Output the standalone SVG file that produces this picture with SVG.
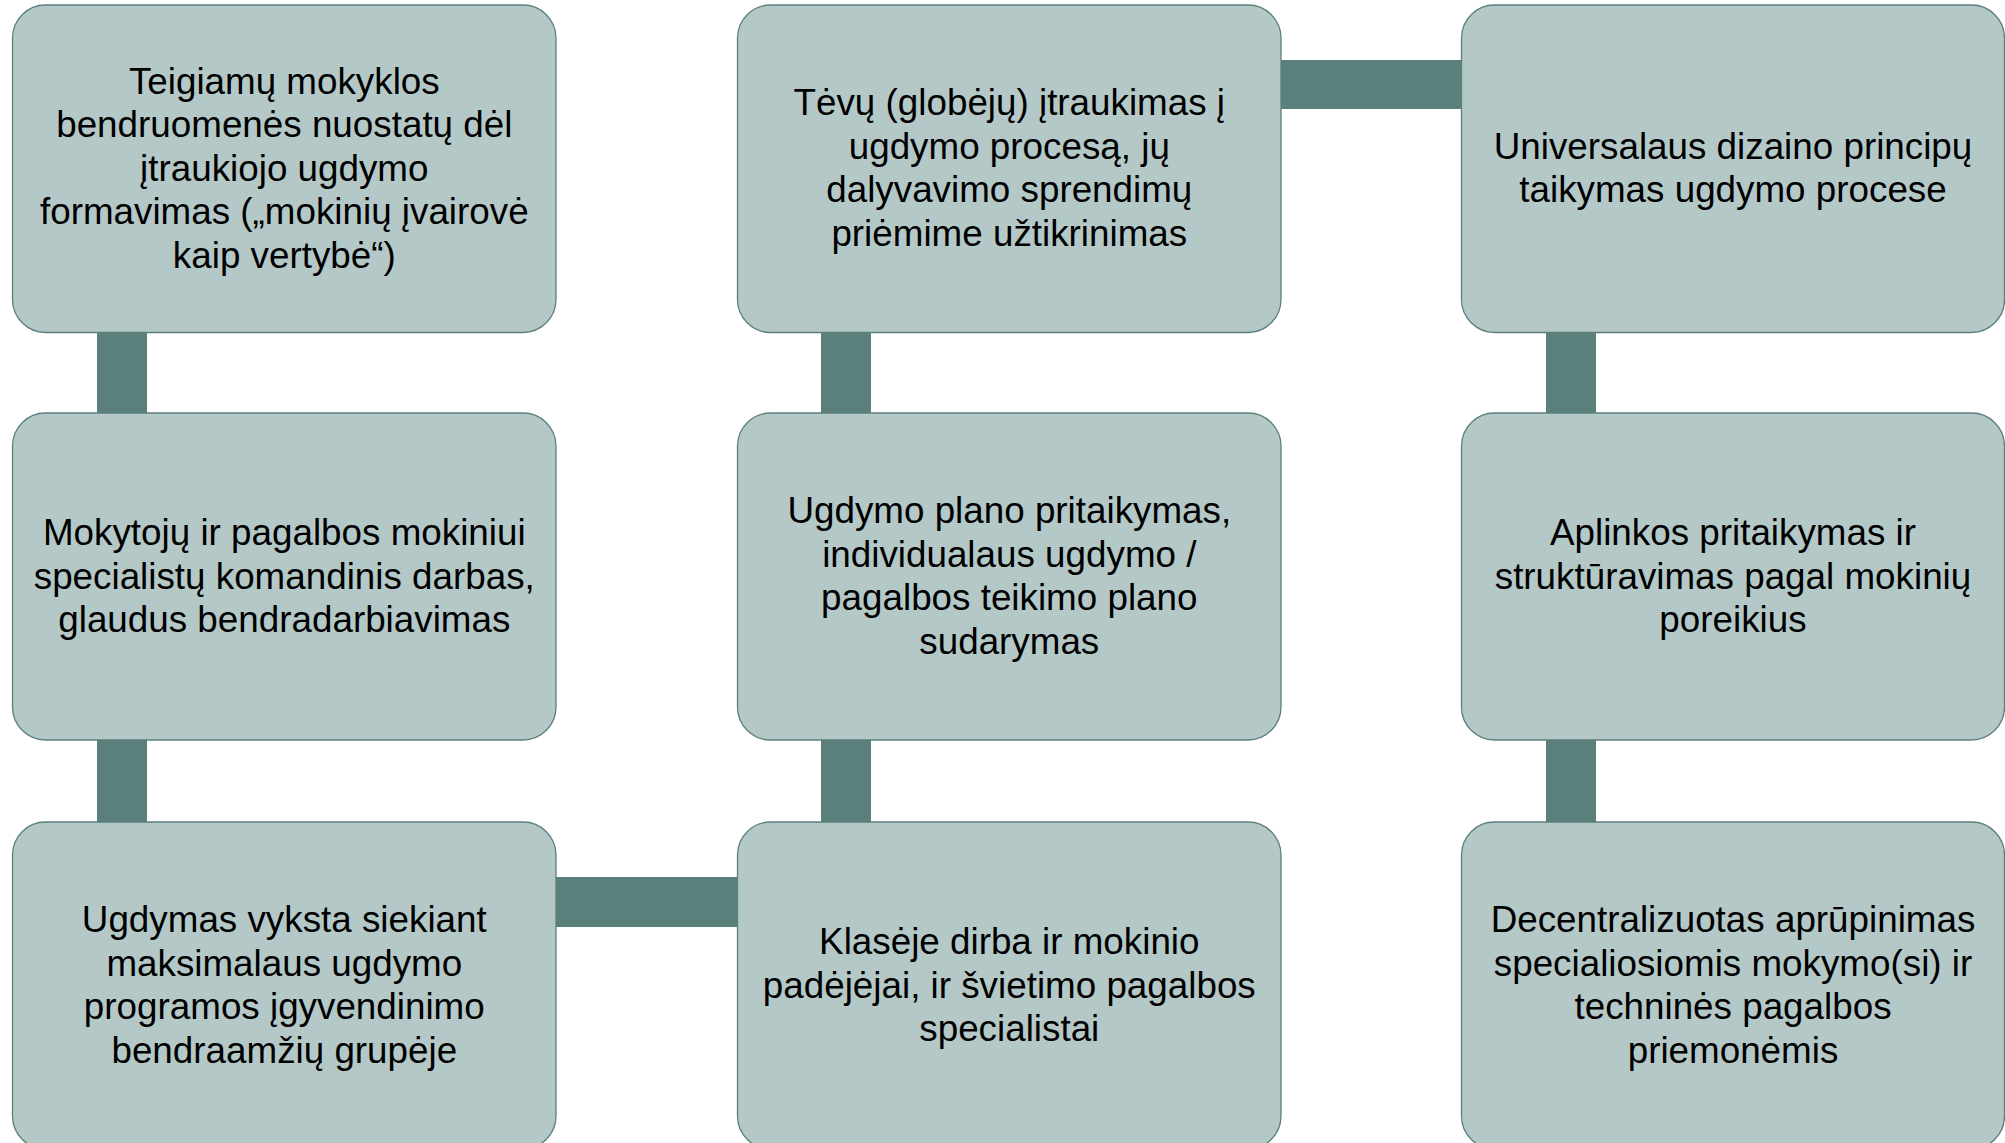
<svg xmlns="http://www.w3.org/2000/svg" width="2005" height="1143" viewBox="0 0 2005 1143">
<style>
.box{fill:#B4C9C7;stroke:#5B807C;stroke-width:1.3}
.con{fill:#5B807C}
text{font-family:"Liberation Sans",Arial,sans-serif;font-size:36.8px;fill:#000;text-anchor:middle}
</style>
<rect width="2005" height="1143" fill="#fff"/>
<g id="connectors">
<rect class="con" x="97" y="330" width="50" height="85"/>
<rect class="con" x="97" y="738" width="50" height="86"/>
<rect class="con" x="821" y="330" width="50" height="85"/>
<rect class="con" x="821" y="738" width="50" height="86"/>
<rect class="con" x="1546" y="330" width="50" height="85"/>
<rect class="con" x="1546" y="738" width="50" height="86"/>
<rect class="con" x="554" y="877" width="186" height="50"/>
<rect class="con" x="1279" y="60" width="185" height="49"/>
</g>
<g id="n1">
<rect class="box" x="12.5" y="5" width="543.5" height="327.5" rx="33"/>
<text x="284.3" y="93.5">Teigiamų mokyklos</text>
<text x="284.3" y="137">bendruomenės nuostatų dėl</text>
<text x="284.3" y="180.5">įtraukiojo ugdymo</text>
<text x="284.3" y="224">formavimas („mokinių įvairovė</text>
<text x="284.3" y="267.5">kaip vertybė“)</text>
</g>
<g id="n2">
<rect class="box" x="12.5" y="413" width="543.5" height="327" rx="33"/>
<text x="284.3" y="545">Mokytojų ir pagalbos mokiniui</text>
<text x="284.3" y="588.5">specialistų komandinis darbas,</text>
<text x="284.3" y="632">glaudus bendradarbiavimas</text>
</g>
<g id="n3">
<rect class="box" x="12.5" y="822" width="543.5" height="327" rx="33"/>
<text x="284.3" y="932">Ugdymas vyksta siekiant</text>
<text x="284.3" y="976">maksimalaus ugdymo</text>
<text x="284.3" y="1019">programos įgyvendinimo</text>
<text x="284.3" y="1063">bendraamžių grupėje</text>
</g>
<g id="n4">
<rect class="box" x="737.5" y="5" width="543.5" height="327.5" rx="33"/>
<text x="1009.3" y="115">Tėvų (globėjų) įtraukimas į</text>
<text x="1009.3" y="159">ugdymo procesą, jų</text>
<text x="1009.3" y="202">dalyvavimo sprendimų</text>
<text x="1009.3" y="246">priėmime užtikrinimas</text>
</g>
<g id="n5">
<rect class="box" x="737.5" y="413" width="543.5" height="327" rx="33"/>
<text x="1009.3" y="523">Ugdymo plano pritaikymas,</text>
<text x="1009.3" y="567">individualaus ugdymo /</text>
<text x="1009.3" y="610">pagalbos teikimo plano</text>
<text x="1009.3" y="654">sudarymas</text>
</g>
<g id="n6">
<rect class="box" x="737.5" y="822" width="543.5" height="327" rx="33"/>
<text x="1009.3" y="954">Klasėje dirba ir mokinio</text>
<text x="1009.3" y="997.5">padėjėjai, ir švietimo pagalbos</text>
<text x="1009.3" y="1041">specialistai</text>
</g>
<g id="n7">
<rect class="box" x="1461.5" y="5" width="543" height="327.5" rx="33"/>
<text x="1733" y="159">Universalaus dizaino principų</text>
<text x="1733" y="202">taikymas ugdymo procese</text>
</g>
<g id="n8">
<rect class="box" x="1461.5" y="413" width="543" height="327" rx="33"/>
<text x="1733" y="545">Aplinkos pritaikymas ir</text>
<text x="1733" y="588.5">struktūravimas pagal mokinių</text>
<text x="1733" y="632">poreikius</text>
</g>
<g id="n9">
<rect class="box" x="1461.5" y="822" width="543" height="327" rx="33"/>
<text x="1733" y="932">Decentralizuotas aprūpinimas</text>
<text x="1733" y="976">specialiosiomis mokymo(si) ir</text>
<text x="1733" y="1019">techninės pagalbos</text>
<text x="1733" y="1063">priemonėmis</text>
</g>
</svg>
